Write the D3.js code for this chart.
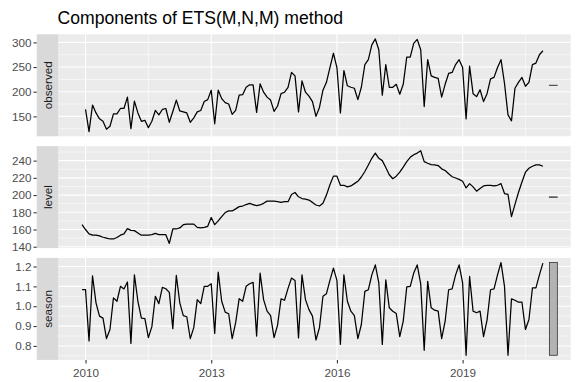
<!DOCTYPE html>
<html>
<head>
<meta charset="utf-8">
<script src="https://cdn.jsdelivr.net/npm/d3@7"></script>
<style>
body { margin: 0; background: #fff; }
text { font-family: "Liberation Sans", Arial, Helvetica, sans-serif; }
</style>
</head>
<body>
<svg id="chart" width="578" height="382"></svg>
<script>
const chartTitle = "Components of ETS(M,N,M) method";

// monthly, observed starts Jan 2010, states start one month earlier
const observedStart = 2010;
const stateStart = 2009 + 11 / 12;

const observed = [
    164, 119, 173, 157, 145, 140, 124, 130, 155, 155, 166, 166,
    189, 125, 181, 157, 140, 142, 127, 140, 162, 153, 164, 166,
    138, 160, 183, 161, 159, 157, 138, 147, 159, 162, 180, 184,
    203, 135, 203, 186, 178, 175, 154, 162, 193, 194, 209, 214,
    214, 158, 216, 199, 189, 183, 160, 171, 196, 199, 209, 239,
    232, 159, 222, 199, 191, 180, 150, 168, 203, 219, 249, 278,
    249, 157, 243, 212, 209, 207, 184, 209, 255, 265, 295, 307,
    285, 193, 255, 209, 209, 215, 195, 215, 270, 270, 298, 306,
    285, 170, 265, 232, 229, 227, 189, 215, 237, 239, 255, 265,
    249, 145, 252, 196, 190, 204, 180, 196, 226, 229, 249, 265,
    217, 153, 141, 207, 219, 229, 211, 219, 255, 258, 275, 283
];

const level = [
    165.6,
    160, 155, 153.4, 153.4, 152.6, 151, 150, 149, 149, 150.7, 153.4, 155,
    161, 159, 158.7, 156, 153.4, 153.4, 153.4, 154, 155.6, 154, 154, 154,
    143.8, 160.6, 160.6, 161.8, 165.6, 166.3, 166.3, 166.3, 162.5, 161.8, 162.5, 163.7,
    174, 165.6, 170, 175, 179.7, 181.6, 181.6, 184, 186.6, 187.3, 189, 190.4,
    189, 187.7, 188.5, 190.4, 193, 193, 193, 192.3, 191.5, 192.3, 192.3, 200.7,
    203, 198, 196, 195.3, 194.2, 191.5, 188.5, 187.3, 190.4, 200, 212, 222,
    222, 211.4, 211.4, 209.5, 210.6, 213.3, 216, 221, 227.4, 235, 242.7, 248.8,
    242.7, 240, 232, 223.6, 219, 222, 226.6, 232.4, 238.9, 243.8, 246.9, 248.8,
    251.5, 238.9, 237, 235.4, 235, 234.3, 230.5, 228.5, 224.7, 221.3, 219.8, 218.2,
    216, 208.3, 213.3, 209.5, 204.5, 207.6, 210.6, 211.4, 211.4, 210.6, 211.4, 213.3,
    201.8, 200.7, 175, 189.2, 203, 215.2, 226.6, 231.2, 233.5, 235, 235, 233.5
];

const season = [
    1.083,
    1.083, 0.825, 1.153, 1.017, 0.95, 0.94, 0.837, 0.883, 1.042, 1.025, 1.1, 1.087,
    1.122, 0.813, 1.158, 1.025, 0.94, 0.937, 0.842, 0.897, 1.05, 1.013, 1.095, 1.088,
    1.07, 0.887, 1.155, 1.017, 0.953, 0.947, 0.837, 0.892, 1.033, 1.013, 1.1, 1.1,
    1.113, 0.863, 1.172, 1.025, 0.97, 0.962, 0.837, 0.917, 1.038, 1.025, 1.1, 1.113,
    1.12, 0.85, 1.167, 1.033, 0.975, 0.953, 0.842, 0.905, 1.037, 1.03, 1.09, 1.142,
    1.13, 0.84, 1.158, 1.033, 0.983, 0.95, 0.83, 0.892, 1.05, 1.063, 1.13, 1.192,
    1.13, 0.808, 1.158, 1.025, 0.975, 0.953, 0.837, 0.908, 1.075, 1.083, 1.158, 1.208,
    1.117, 0.808, 1.133, 0.992, 0.975, 0.963, 0.847, 0.925, 1.097, 1.1, 1.167, 1.208,
    1.113, 0.778, 1.125, 0.992, 0.98, 0.975, 0.837, 0.925, 1.083, 1.087, 1.158, 1.208,
    1.117, 0.753, 1.15, 0.975, 0.967, 0.975, 0.847, 0.93, 1.083, 1.087, 1.158, 1.22,
    1.1, 0.753, 1.037, 1.03, 1.02, 1.02, 0.883, 0.933, 1.092, 1.092, 1.158, 1.217
];

const observedTicks = [150, 200, 250, 300];
const levelTicks = [140, 160, 180, 200, 220, 240];
const seasonTicks = [0.8, 0.9, 1.0, 1.1, 1.2];
const yearTicks = [2010, 2013, 2016, 2019];

// layout
var panelLeft = 58.3, panelRight = 570.7;
var stripLeft = 36.7;
var panelTop = 34.3, panelH = 102, panelGap = 9.8;
var barSpan = [2021.07, 2021.26];
var fontStack = '"Liberation Sans", Arial, Helvetica, sans-serif';

var svg = d3.select('#chart');

var x = d3.scaleLinear()
    .domain([2009.35, 2021.58])
    .range([panelLeft, panelRight]);

var panels = [
    { name: 'observed', values: observed, start: observedStart, ticks: observedTicks, fmt: d3.format('d') },
    { name: 'level', values: level, start: stateStart, ticks: levelTicks, fmt: d3.format('d') },
    { name: 'season', values: season, start: stateStart, ticks: seasonTicks, fmt: d3.format('.1f') }
];

// range bars all have the length of the smallest panel range
var barLen = d3.min(panels, p => d3.max(p.values) - d3.min(p.values));

function minorsOf(ticks, dom) {
    let step = ticks[1] - ticks[0];
    return d3.range(ticks[0] - step / 2, ticks[ticks.length - 1] + step, step)
        .filter(v => v >= dom[0] && v <= dom[1]);
}

svg.append('text')
    .attr('x', 57.5)
    .attr('y', 23.5)
    .attr('font-size', '17.6px')
    .attr('fill', '#000')
    .text(chartTitle);

panels.forEach((p, k) => {

    let top = panelTop + k * (panelH + panelGap);
    let [lo, hi] = d3.extent(p.values);
    let pad = (hi - lo) * 0.05;

    let y = d3.scaleLinear()
        .domain([lo - pad, hi + pad])
        .range([top + panelH, top]);

    let g = svg.append('g').attr('class', 'panel ' + p.name);

    g.append('rect')
        .attr('x', panelLeft)
        .attr('y', top)
        .attr('width', panelRight - panelLeft)
        .attr('height', panelH)
        .attr('fill', '#ebebeb');

    // grid
    let yMinor = minorsOf(p.ticks, y.domain());
    let xMinor = minorsOf(yearTicks, x.domain());

    g.selectAll('.ygm').data(yMinor).enter().append('line')
        .attr('x1', panelLeft).attr('x2', panelRight)
        .attr('y1', d => y(d)).attr('y2', d => y(d))
        .attr('stroke', '#fff').attr('stroke-width', 0.55);

    g.selectAll('.xgm').data(xMinor).enter().append('line')
        .attr('y1', top).attr('y2', top + panelH)
        .attr('x1', d => x(d)).attr('x2', d => x(d))
        .attr('stroke', '#fff').attr('stroke-width', 0.55);

    g.selectAll('.yg').data(p.ticks).enter().append('line')
        .attr('x1', panelLeft).attr('x2', panelRight)
        .attr('y1', d => y(d)).attr('y2', d => y(d))
        .attr('stroke', '#fff').attr('stroke-width', 1.1);

    g.selectAll('.xg').data(yearTicks).enter().append('line')
        .attr('y1', top).attr('y2', top + panelH)
        .attr('x1', d => x(d)).attr('x2', d => x(d))
        .attr('stroke', '#fff').attr('stroke-width', 1.1);

    // series
    let pts = p.values.map((v, i) => ({ t: p.start + i / 12, v: v }));

    let line = d3.line()
        .x(d => x(d.t))
        .y(d => y(d.v));

    g.append('path')
        .datum(pts)
        .attr('d', line)
        .attr('fill', 'none')
        .attr('stroke', '#000')
        .attr('stroke-width', 1.25)
        .attr('stroke-linejoin', 'round');

    // range bar
    let mid = (lo + hi) / 2;
    g.append('rect')
        .attr('x', x(barSpan[0]))
        .attr('width', x(barSpan[1]) - x(barSpan[0]))
        .attr('y', y(mid + barLen / 2))
        .attr('height', Math.max(0.01, y(mid - barLen / 2) - y(mid + barLen / 2)))
        .attr('fill', '#b3b3b3')
        .attr('stroke', '#1a1a1a')
        .attr('stroke-width', 0.7);

    // strip
    g.append('rect')
        .attr('x', stripLeft)
        .attr('y', top)
        .attr('width', panelLeft - stripLeft)
        .attr('height', panelH)
        .attr('fill', '#d9d9d9');

    g.append('text')
        .attr('transform', `translate(${(stripLeft + panelLeft) / 2} ${top + panelH / 2}) rotate(-90)`)
        .attr('text-anchor', 'middle')
        .attr('dominant-baseline', 'central')
        .attr('font-size', '11.7px')
        .attr('fill', '#1a1a1a')
        .text(p.name);

    // y axis
    let yAxis = d3.axisLeft(y)
        .tickValues(p.ticks)
        .tickFormat(p.fmt)
        .tickSize(3.2)
        .tickPadding(2);

    let ya = g.append('g')
        .attr('transform', `translate(${stripLeft} 0)`)
        .call(yAxis);

    ya.select('.domain').remove();
    ya.selectAll('line').attr('stroke', '#333').attr('stroke-width', 1.07);
    ya.selectAll('text')
        .attr('font-family', fontStack)
        .attr('font-size', '11.7px')
        .attr('fill', '#4d4d4d');

    if (k === panels.length - 1) {
        let xAxis = d3.axisBottom(x)
            .tickValues(yearTicks)
            .tickFormat(d3.format('d'))
            .tickSize(3.6)
            .tickPadding(2.9);

        let xa = g.append('g')
            .attr('transform', `translate(0 ${top + panelH})`)
            .call(xAxis);

        xa.select('.domain').remove();
        xa.selectAll('line').attr('stroke', '#333').attr('stroke-width', 1.07);
        xa.selectAll('text')
            .attr('dy', '0.9em')
            .attr('font-family', fontStack)
            .attr('font-size', '11.7px')
            .attr('fill', '#4d4d4d');
    }
});
</script>
</body>
</html>
